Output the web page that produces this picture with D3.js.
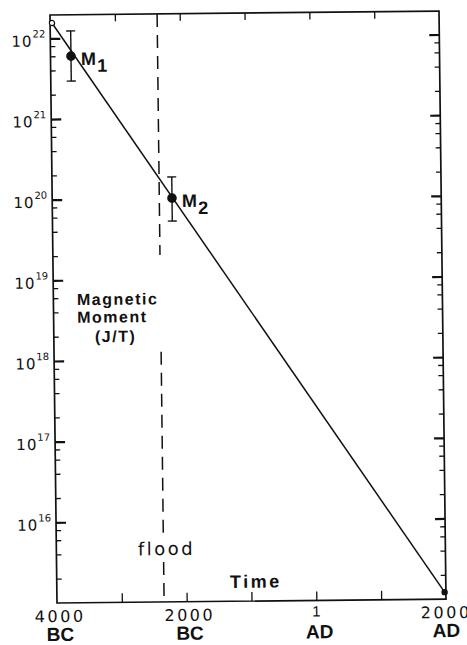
<!DOCTYPE html>
<html>
<head>
<meta charset="utf-8">
<style>
  body { margin: 0; background: #fff; }
  svg text { fill: #111; }
  .num { font-family: "DejaVu Sans", sans-serif; }
  .bold { font-family: "Liberation Sans", Arial, sans-serif; font-weight: bold; }
  .axis .domain { display: none; }
  .axis line { stroke: #111; }
  .major line { stroke-width: 2.2px; }
  .minor line { stroke-width: 1.3px; }
</style>
</head>
<body>
<script src="https://cdn.jsdelivr.net/npm/d3@7"></script>
<script>
// time axis
var yearTicks  = [-4000, -3000, -2000, -1000, 0, 1000, 2000];
var yearLabels = ["4000", "", "2000", "", "", "", "2000"];
var eraLabels  = ["BC", "", "BC", "", "AD", "", "AD"];

// moment axis (powers of ten)
var decades = [16, 17, 18, 19, 20, 21, 22];
var minorDecades = [15, 16, 17, 18, 19, 20, 21];
var minorMultiples = [2, 4, 6, 8];

// exponential decay line
var fitYears   = [-3971, 1980];
var fitMoments = [1.55e22, 1.22e15];

// archaeomagnetic samples
var sampleNames   = ["M", "M"];
var sampleSubs    = ["1", "2"];
var sampleYears   = [-3684, -2152];
var sampleMoments = [6.0e21, 1.01e20];
var sampleLow     = [2.94e21, 5.25e19];
var sampleHigh    = [1.23e22, 1.85e20];

// flood marker
var floodYear = -2348;
var floodSpans = [[1.95e22, 2.0e19], [1.26e18, 6.8e15], [3.13e15, 1e15]];

var W = 389, H = 588;

var svg = d3.select("body").append("svg")
    .attr("width", 467)
    .attr("height", 645)
    .style("display", "block");

// the scanned figure is slightly skewed
var g = svg.append("g")
    .attr("transform", "matrix(1,-0.01,0.0119,1,50,15)");

var x = d3.scaleLinear().domain([-4000, 2000]).range([0, W]);
var y = d3.scaleLog().domain([1e15, Math.pow(10, 22.29)]).range([H, 0]);

var majorVals = decades.map(function (d) { return Math.pow(10, d); });
var minorVals = [];
minorDecades.forEach(function (d) {
  minorMultiples.forEach(function (m) {
    var v = m * Math.pow(10, d);
    if (v < y.domain()[1]) minorVals.push(v);
  });
});
var innerYears = yearTicks.slice(1, -1);

// ticks
g.append("g").attr("class", "axis major")
    .call(d3.axisLeft(y).tickValues(majorVals).tickSize(-10).tickSizeOuter(0).tickFormat(""));
g.append("g").attr("class", "axis minor")
    .call(d3.axisLeft(y).tickValues(minorVals).tickSize(-5).tickSizeOuter(0).tickFormat(""));
g.append("g").attr("class", "axis major")
    .attr("transform", "translate(" + W + ",0)")
    .call(d3.axisRight(y).tickValues(majorVals).tickSize(-10).tickSizeOuter(0).tickFormat(""));
g.append("g").attr("class", "axis minor")
    .attr("transform", "translate(" + W + ",0)")
    .call(d3.axisRight(y).tickValues(minorVals).tickSize(-5).tickSizeOuter(0).tickFormat(""));
g.append("g").attr("class", "axis minor")
    .attr("transform", "translate(0," + H + ")")
    .call(d3.axisBottom(x).tickValues(innerYears).tickSize(-9).tickSizeOuter(0).tickFormat(""));
g.append("g").attr("class", "axis minor")
    .call(d3.axisTop(x).tickValues(innerYears).tickSize(-7).tickSizeOuter(0).tickFormat(""));

// frame
g.append("rect")
    .attr("x", 0).attr("y", 0)
    .attr("width", W).attr("height", H)
    .style("fill", "none")
    .style("stroke", "#111")
    .style("stroke-width", "1.7px");

// y labels 10^n
var yl = g.selectAll(".ylab").data(decades).enter()
  .append("text")
    .attr("class", "ylab num")
    .attr("x", -5)
    .attr("y", function (d) { return y(Math.pow(10, d)) + 8; })
    .style("text-anchor", "end")
    .style("font-size", "15px");
yl.append("tspan").text("10").style("letter-spacing", "1px");
yl.append("tspan")
    .attr("dy", -9)
    .style("font-size", "10px")
    .text(function (d) { return d; });

// x labels
g.selectAll(".xlab").data(yearTicks).enter()
  .append("text")
    .attr("class", "xlab num")
    .attr("x", function (d, i) { return x(d) + (i === yearTicks.length - 1 ? 0 : 3); })
    .attr("y", H + 19)
    .style("text-anchor", "middle")
    .style("font-size", "16px")
    .style("letter-spacing", "2.5px")
    .text(function (d, i) { return yearLabels[i]; });

g.selectAll(".era").data(yearTicks).enter()
  .append("text")
    .attr("class", "era bold")
    .attr("x", function (d, i) { return x(d) + (i === yearTicks.length - 1 ? 0 : 3); })
    .attr("y", H + 38)
    .style("text-anchor", "middle")
    .style("font-size", "19px")
    .text(function (d, i) { return eraLabels[i]; });

// "1" AD drawn under its tick
g.append("text")
    .attr("x", x(0))
    .attr("y", H + 16)
    .style("text-anchor", "middle")
    .style("font-family", "'Liberation Sans', sans-serif")
    .style("font-size", "15px")
    .text("1");

// flood line
var floodG = g.append("g");
floodSpans.forEach(function (s) {
  floodG.append("line")
      .attr("x1", x(floodYear)).attr("x2", x(floodYear))
      .attr("y1", y(s[0])).attr("y2", y(s[1]))
      .style("stroke", "#111")
      .style("stroke-width", "1.5px")
      .style("stroke-dasharray", "13,8");
});

// decay line
var fit = fitYears.map(function (t, i) { return [t, fitMoments[i]]; });
var line = d3.line()
    .x(function (d) { return x(d[0]); })
    .y(function (d) { return y(d[1]); });

g.append("path")
    .attr("d", line(fit))
    .style("fill", "none")
    .style("stroke", "#111")
    .style("stroke-width", "1.5px");

g.append("circle")
    .attr("cx", x(fit[0][0])).attr("cy", y(fit[0][1]))
    .attr("r", 2.6)
    .style("fill", "#fff")
    .style("stroke", "#111")
    .style("stroke-width", "1.2px");

g.append("circle")
    .attr("cx", x(fit[1][0])).attr("cy", y(fit[1][1]))
    .attr("r", 3.2)
    .style("fill", "#111");

// samples with error bars
var samples = sampleYears.map(function (t, i) {
  return { t: t, m: sampleMoments[i], lo: sampleLow[i], hi: sampleHigh[i],
           name: sampleNames[i], sub: sampleSubs[i] };
});

var sg = g.selectAll(".sample").data(samples).enter().append("g");
sg.append("line")
    .attr("x1", function (d) { return x(d.t); })
    .attr("x2", function (d) { return x(d.t); })
    .attr("y1", function (d) { return y(d.lo); })
    .attr("y2", function (d) { return y(d.hi); })
    .style("stroke", "#111").style("stroke-width", "1.4px");
["lo", "hi"].forEach(function (k) {
  sg.append("line")
      .attr("x1", function (d) { return x(d.t) - 4.5; })
      .attr("x2", function (d) { return x(d.t) + 4.5; })
      .attr("y1", function (d) { return y(d[k]); })
      .attr("y2", function (d) { return y(d[k]); })
      .style("stroke", "#111").style("stroke-width", "1.4px");
});
sg.append("circle")
    .attr("cx", function (d) { return x(d.t); })
    .attr("cy", function (d) { return y(d.m); })
    .attr("r", 4.8)
    .style("fill", "#111");

var st = sg.append("text")
    .attr("class", "bold")
    .attr("x", function (d) { return x(d.t) + 10; })
    .attr("y", function (d) { return y(d.m) + 9; })
    .style("font-size", "18px");
st.append("tspan").text(function (d) { return d.name; });
st.append("tspan")
    .attr("dy", 7)
    .attr("dx", 1)
    .text(function (d) { return d.sub; });

// annotations
g.append("text").attr("class", "bold")
    .attr("x", x(-3637)).attr("y", y(Math.pow(10, 18.69)))
    .style("font-size", "16px").style("letter-spacing", "1.5px")
    .text("Magnetic");
g.append("text").attr("class", "bold")
    .attr("x", x(-3637)).attr("y", y(Math.pow(10, 18.47)))
    .style("font-size", "16px").style("letter-spacing", "1.5px")
    .text("Moment");
g.append("text").attr("class", "bold")
    .attr("x", x(-3366)).attr("y", y(Math.pow(10, 18.23)))
    .style("font-size", "16px").style("letter-spacing", "1.5px")
    .text("(J/T)");

g.append("text").attr("class", "num")
    .attr("x", x(-2300)).attr("y", y(Math.pow(10, 15.58)))
    .style("text-anchor", "middle")
    .style("font-size", "18px").style("letter-spacing", "2.5px")
    .text("flood");

g.append("text").attr("class", "bold")
    .attr("x", x(-930)).attr("y", y(Math.pow(10, 15.165)))
    .style("text-anchor", "middle")
    .style("font-size", "18px").style("letter-spacing", "2.5px")
    .text("Time");
</script>
</body>
</html>
